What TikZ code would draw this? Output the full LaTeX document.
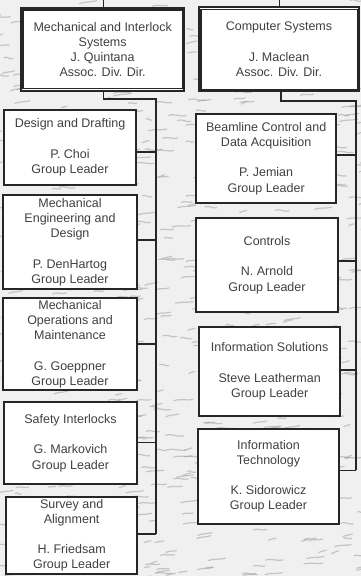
\documentclass[tikz,border=0pt]{standalone}
\usepackage{fontspec}
\setmainfont{Liberation Sans}
\begin{document}
\begin{tikzpicture}[x=1pt,y=-1pt,
  orgbox/.style={draw=black!85, line width=1.8pt, fill=white, inner sep=0pt, align=center,
    font=\fontsize{12.5}{15.2}\selectfont, text=black!75},
  innerline/.style={draw=black!85, line width=1.4pt},
  conn/.style={draw=black!85, line width=1.6pt},
  streak/.style={draw=black!40, line width=1.2pt, opacity=0.5, line cap=round}]
\useasboundingbox (0,0) rectangle (361,576);
\fill[black!6] (0,0) rectangle (361,576);
\begin{scope}
\clip (0,0) rectangle (361,576);
\pgfmathsetseed{4711}
\foreach \i in {1,...,700}{
  \pgfmathsetmacro\xx{rnd*380-10}
  \pgfmathsetmacro\yy{rnd*590-7}
  \pgfmathsetmacro\ll{5+rnd*14}
  \pgfmathsetmacro\ca{\ll/3}
  \pgfmathsetmacro\cb{-\ll/3}
  \pgfmathsetmacro\dy{rnd*4-3}
  \draw[streak] (\xx,\yy) .. controls +(\ca,-2) and +(\cb,1.5) .. +(\ll,\dy);
}
\end{scope}
% connector coordinates
\coordinate (ltop) at (103.3,0);
\coordinate (lj) at (156,99);
\coordinate (lend) at (156,534);
\coordinate (rtop) at (279.3,0);
\coordinate (rj) at (356,101);
\coordinate (rend) at (356,470.3);
\coordinate (s1) at (156,152);
\coordinate (s2) at (156,240);
\coordinate (s3) at (156,344);
\coordinate (s4) at (156,442.3);
\coordinate (s5) at (156,534);
\coordinate (t1) at (356,155);
\coordinate (t2) at (356,261);
\coordinate (t3) at (356,370);
\coordinate (t4) at (356,470.3);
% trunks
\draw[conn] (103.3,90) coordinate (mb) -- (mb |- lj) -- (lj) -- (lend);
\draw[conn] (281,91) coordinate (cb) -- (cb |- rj) -- (rj) -- (rend);
% top boxes
\node[orgbox, line width=2pt, minimum width=163.3pt, minimum height=82.2pt] (mis) at (102.65,49.4)
  {Mechanical and Interlock\\Systems\\J. Quintana\\Assoc. Div. Dir.};
\draw[innerline] ([shift={(3,2.6)}]mis.north west) rectangle ([shift={(-2.6,-2.8)}]mis.south east);
\node[orgbox, line width=2pt, minimum width=160pt, minimum height=84.1pt] (cs) at (279,49.25)
  {Computer Systems\\[15.2pt]J. Maclean\\Assoc. Div. Dir.};
\draw[innerline] ([shift={(2.8,3)}]cs.north west) rectangle ([shift={(-2.8,-3)}]cs.south east);
\draw[conn] (ltop) -- (mis.north -| ltop);
\draw[conn] (rtop) -- (cs.north -| rtop);
% left boxes
\node[orgbox, minimum width=132pt, minimum height=75.3pt] (dd) at (70,147.35)
  {Design and Drafting\\[15.2pt]P. Choi\\Group Leader};
\node[orgbox, minimum width=134pt, minimum height=94pt] (me) at (70,242)
  {Mechanical\\Engineering and\\Design\\[15.2pt]P. DenHartog\\Group Leader};
\node[orgbox, minimum width=134pt, minimum height=92pt] (mo) at (70,344.3)
  {Mechanical\\Operations and\\Maintenance\\[15.2pt]G. Goeppner\\Group Leader};
\node[orgbox, minimum width=133pt, minimum height=82.3pt] (si) at (70.5,443.15)
  {Safety Interlocks\\[15.2pt]G. Markovich\\Group Leader};
\node[orgbox, minimum width=130.7pt, minimum height=76.7pt] (sa) at (71.65,535.35)
  {Survey and\\Alignment\\[15.2pt]H. Friedsam\\Group Leader};
% right boxes
\node[orgbox, minimum width=139.7pt, minimum height=88.4pt] (bc) at (266.15,158.5)
  {Beamline Control and\\Data Acquisition\\[15.2pt]P. Jemian\\Group Leader};
\node[orgbox, minimum width=141.4pt, minimum height=94.6pt] (co) at (267,265)
  {Controls\\[15.2pt]N. Arnold\\Group Leader};
\node[orgbox, minimum width=140.7pt, minimum height=88.7pt] (is) at (269.65,371.35)
  {Information Solutions\\[15.2pt]Steve Leatherman\\Group Leader};
\node[orgbox, minimum width=141.6pt, minimum height=95pt] (it) at (268.5,476.2)
  {Information\\Technology\\[15.2pt]K. Sidorowicz\\Group Leader};
% stubs
\draw[conn] (dd.east |- s1) -- (s1);
\draw[conn] (me.east |- s2) -- (s2);
\draw[conn] (mo.east |- s3) -- (s3);
\draw[conn] (si.east |- s4) -- (s4);
\draw[conn] (sa.east |- s5) -- (s5);
\draw[conn] (bc.east |- t1) -- (t1);
\draw[conn] (co.east |- t2) -- (t2);
\draw[conn] (is.east |- t3) -- (t3);
\draw[conn] (it.east |- t4) -- (t4);
\end{tikzpicture}
\end{document}
